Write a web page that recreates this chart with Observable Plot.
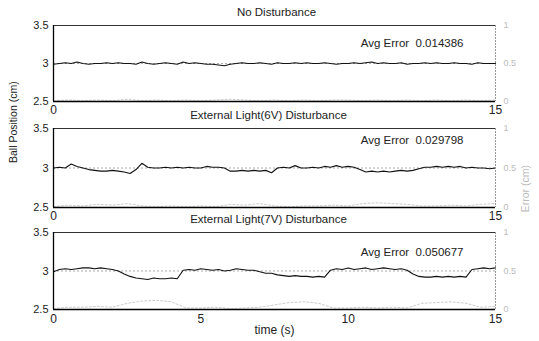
<!DOCTYPE html>
<html>
<head>
<meta charset="utf-8">
<script src="https://cdn.jsdelivr.net/npm/d3@7"></script>
<script src="https://cdn.jsdelivr.net/npm/@observablehq/plot@0.6"></script>
<style>
  html, body { margin: 0; padding: 0; background: #fff; }
  #chart { position: relative; width: 539px; height: 341px; overflow: hidden; background: #fff; }
</style>
</head>
<body>
<div id="chart"></div>
<script>
// ---------- data ----------
const titles = ["No Disturbance", "External Light(6V) Disturbance", "External Light(7V) Disturbance"];
const avgErrors = ["Avg Error  0.014386", "Avg Error  0.029798", "Avg Error  0.050677"];
const leftTicks = [2.5, 3, 3.5];
const leftTickLabels = ["2.5", "3", "3.5"];
const rightTickLabels = ["0", "0.5", "1"];
const setpoint = [3];

const time = [0,0.2,0.4,0.6,0.8,1,1.2,1.4,1.6,1.8,2,2.2,2.4,2.6,2.8,3,3.2,3.4,3.6,3.8,4,4.2,4.4,4.6,4.8,5,5.2,5.4,5.6,5.8,6,6.2,6.4,6.6,6.8,7,7.2,7.4,7.6,7.8,8,8.2,8.4,8.6,8.8,9,9.2,9.4,9.6,9.8,10,10.2,10.4,10.6,10.8,11,11.2,11.4,11.6,11.8,12,12.2,12.4,12.6,12.8,13,13.2,13.4,13.6,13.8,14,14.2,14.4,14.6,14.8,15];

const posNone = [2.99,3.00,3.01,3.00,3.02,3.00,2.99,3.00,3.00,3.01,3.00,3.01,3.00,3.00,2.99,3.02,3.00,2.99,3.00,3.01,3.00,2.99,3.02,3.00,3.01,3.00,2.99,2.99,2.98,2.97,2.99,3.00,3.01,3.00,3.00,3.01,3.00,2.99,3.01,3.00,3.00,3.01,3.00,3.01,3.00,3.00,3.01,3.00,2.99,3.00,3.00,3.01,3.00,3.01,3.02,3.00,3.01,3.00,3.00,3.01,2.99,3.00,3.00,3.01,3.00,3.01,3.00,3.00,3.01,3.00,3.00,2.99,3.01,3.00,3.00,3.00];

const pos6V = [3.00,3.01,3.00,3.05,3.02,3.00,2.98,2.97,2.96,2.96,2.97,2.96,2.95,2.93,2.98,3.06,3.01,3.00,3.00,3.01,3.00,3.01,3.00,3.01,3.00,3.00,3.02,3.01,3.01,3.00,2.96,2.96,2.97,2.96,2.97,2.96,2.97,2.94,3.00,3.01,3.00,3.03,3.00,3.00,3.01,3.00,3.02,3.01,3.03,3.01,3.02,3.01,2.98,2.95,2.96,2.95,2.96,2.95,2.96,2.97,2.96,2.97,2.99,3.01,3.01,3.02,3.01,3.02,3.01,3.02,3.00,3.01,3.00,3.00,2.99,3.00];

const pos7V = [2.99,3.02,3.03,3.02,3.03,3.04,3.04,3.03,3.04,3.03,3.02,3.00,2.96,2.93,2.91,2.90,2.89,2.91,2.90,2.90,2.91,2.90,3.01,3.02,3.01,3.03,3.02,3.01,3.02,3.00,3.01,3.03,3.02,3.01,3.01,2.99,2.97,2.97,2.95,2.94,2.93,2.94,2.93,2.93,2.92,2.93,2.92,3.01,3.03,3.02,3.04,3.02,3.03,3.04,3.02,3.03,3.04,3.03,3.02,3.03,3.01,2.96,2.93,2.92,2.92,2.93,2.92,2.93,2.92,2.93,2.92,3.02,3.03,3.04,3.03,3.04];

const errTime = [0,0.5,1,1.5,2,2.5,3,3.5,4,4.5,5,5.5,6,6.5,7,7.5,8,8.5,9,9.5,10,10.5,11,11.5,12,12.5,13,13.5,14,14.5,15];
const errNone = [0.01,0.02,0.01,0.02,0.01,0.03,0.01,0.02,0.01,0.02,0.01,0.02,0.03,0.02,0.01,0.02,0.01,0.02,0.01,0.02,0.02,0.01,0.02,0.01,0.02,0.01,0.02,0.01,0.02,0.01,0.02];
const err6V = [0.01,0.03,0.02,0.04,0.03,0.05,0.02,0.01,0.02,0.01,0.02,0.01,0.04,0.03,0.05,0.02,0.01,0.02,0.02,0.03,0.02,0.05,0.06,0.05,0.04,0.02,0.02,0.03,0.02,0.04,0.05];
const err7V = [0.01,0.03,0.03,0.04,0.03,0.08,0.11,0.12,0.10,0.02,0.02,0.03,0.01,0.02,0.03,0.06,0.09,0.10,0.08,0.02,0.02,0.03,0.02,0.03,0.02,0.08,0.09,0.10,0.08,0.03,0.04];

const positions = [posNone, pos6V, pos7V];
const errors = [errNone, err6V, err7V];
const xTicksTop = [0, 15];
const xTicksBottom = [0, 5, 10, 15];

// ---------- layout ----------
const W = 539;
const layout = [
  {top: 0,   height: 125, mt: 25, mb: 24, xt: xTicksTop,    pad: 4, titleDx: 2,  avgDy: 18},
  {top: 100, height: 125, mt: 28, mb: 18, xt: xTicksTop,    pad: 4, titleDx: -6, avgDy: 12},
  {top: 204, height: 137, mt: 28, mb: 32, xt: xTicksBottom, pad: 5, titleDx: -6, avgDy: 20}
];
const font = "'Liberation Sans', Arial, Helvetica, sans-serif";
const chart = document.getElementById("chart");

layout.forEach((L, i) => {
  const posData = time.map((t, k) => ({t, v: positions[i][k]}));
  // error plotted on the right-hand 0..1 axis, which spans the same height as 2.5..3.5
  const errData = errTime.map((t, k) => ({t, e: errors[i][k]}));
  const marks = [
    Plot.ruleY(setpoint, {stroke: "#aaa", strokeDasharray: "2,2", strokeWidth: 1}),
    Plot.line(errData, {x: "t", y: d => 2.5 + d.e, stroke: "#cdcdcd", strokeWidth: 1, strokeDasharray: "2,2"}),
    Plot.line(posData, {x: "t", y: "v", stroke: "#111", strokeWidth: 1.1}),
    Plot.ruleX([15], {stroke: "#999", strokeDasharray: "2,1"}),
    Plot.ruleY([3.5], {stroke: "#333"}),
    Plot.ruleX([0], {stroke: "#000", strokeWidth: 1.3}),
    Plot.ruleY([2.5], {stroke: "#000", strokeWidth: 1.3}),
    Plot.axisY({anchor: "left", ticks: leftTicks, tickFormat: (d, k) => leftTickLabels[k], tickSize: 0, tickPadding: 5, label: null, fill: "#222", fontSize: 11}),
    Plot.axisY({anchor: "right", ticks: leftTicks, tickFormat: (d, k) => rightTickLabels[k], tickSize: 0, tickPadding: 8, label: null, fill: "#bbb", fontSize: 9}),
    Plot.axisX({ticks: L.xt, tickFormat: d => String(d), tickSize: 0, tickPadding: L.pad, label: null, fill: "#222", fontSize: 12}),
    Plot.text([titles[i]], {frameAnchor: "top", dy: -13, dx: L.titleDx, text: d => d, fill: "#222", fontSize: 11.5, lineAnchor: "middle"}),
    Plot.text([avgErrors[i]], {frameAnchor: "top-right", dx: -32, dy: L.avgDy, text: d => d, textAnchor: "end", lineAnchor: "middle", fill: "#222", fontSize: 11.5})
  ];
  if (i === 1) {
    marks.push(Plot.text(["Ball Position (cm)"], {frameAnchor: "left", dx: -40, dy: -5, rotate: -90, text: d => d, fill: "#222", fontSize: 10.5}));
    marks.push(Plot.text(["Error (cm)"], {frameAnchor: "right", dx: 30, dy: -3, rotate: -90, text: d => d, fill: "#bbb", fontSize: 10.5}));
  }
  if (i === 2) {
    marks.push(Plot.text(["time (s)"], {frameAnchor: "bottom", dy: 24, text: d => d, fill: "#222", fontSize: 12}));
  }
  const svg = Plot.plot({
    width: W,
    height: L.height,
    marginLeft: 53,
    marginRight: 44,
    marginTop: L.mt,
    marginBottom: L.mb,
    x: {domain: [0, 15], axis: null},
    y: {domain: [2.5, 3.5], axis: null},
    style: {position: "absolute", left: "0px", top: L.top + "px", background: "transparent", overflow: "visible", fontFamily: font, fontSize: "11px", color: "#222"},
    marks
  });
  chart.appendChild(svg);
});
</script>
</body>
</html>
